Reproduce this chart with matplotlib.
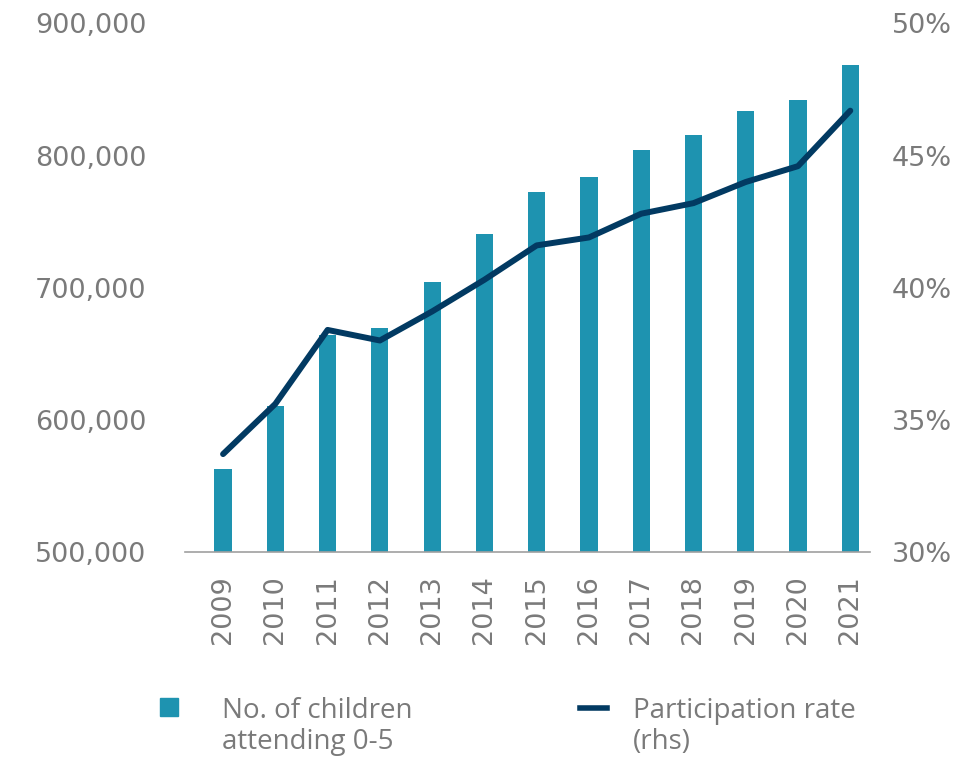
import matplotlib.pyplot as plt
import matplotlib.ticker as ticker
from matplotlib.lines import Line2D
from matplotlib.patches import Rectangle

plt.rcParams['font.family'] = ['DejaVu Sans']

years = ['2009', '2010', '2011', '2012', '2013', '2014', '2015',
         '2016', '2017', '2018', '2019', '2020', '2021']
children = [563000, 610600, 664400, 669700, 704500, 740900, 772700,
            784100, 804500, 815900, 834100, 842400, 868900]
rate = [33.7, 35.6, 38.4, 38.0, 39.1, 40.3, 41.6,
        41.9, 42.8, 43.2, 44.0, 44.6, 46.7]

bar_col = '#1e93b0'
line_col = '#023a62'
txt_col = '#7a7a7a'

W, H = 976, 758
fig = plt.figure(figsize=(W / 100, H / 100), dpi=100)
ax = fig.add_axes([0.19, 0.272, 0.701, 0.697])
ax2 = ax.twinx()

x = range(len(years))
ax.bar(x, children, width=0.33, color=bar_col, zorder=2)
ax2.plot(x, rate, color=line_col, linewidth=4.3, solid_capstyle='round', zorder=3)

ax.set_ylim(500000, 900000)
ax.set_xlim(-0.72, 12.37)
ax2.set_ylim(30, 50)

ax.yaxis.set_major_locator(ticker.MultipleLocator(100000))
ax.yaxis.set_major_formatter(ticker.FuncFormatter(lambda v, p: f'{int(v):,}'))
ax2.yaxis.set_major_locator(ticker.MultipleLocator(5))
ax2.yaxis.set_major_formatter(ticker.FuncFormatter(lambda v, p: f'{int(v)}%'))

ax.set_xticks(list(x))
ax.set_xticklabels(years, rotation=90, va='top')

for a in (ax, ax2):
    for s in a.spines.values():
        s.set_visible(False)
ax.spines['bottom'].set_visible(True)
ax.spines['bottom'].set_color('#a0a0a0')
ax.spines['bottom'].set_linewidth(1.2)

ax.tick_params(axis='y', length=0, pad=28, labelsize=19.5, labelcolor=txt_col)
ax2.tick_params(axis='y', length=0, pad=16, labelsize=19.5, labelcolor=txt_col)
ax.tick_params(axis='x', length=0, pad=17, labelsize=19.5, labelcolor=txt_col)

# legend drawn by hand so the keys sit beside the first text line
fig.add_artist(Rectangle((160 / W, 1 - 716 / H), 18 / W, 18 / H,
                         transform=fig.transFigure, color=bar_col))
fig.text(222 / W, 1 - 697 / H, 'No. of children\nattending 0-5', family='Open Sans',
         fontsize=20, color=txt_col, va='top', ha='left', linespacing=1.15)
fig.add_artist(Line2D([580 / W, 607 / W], [1 - 708 / H, 1 - 708 / H],
                      transform=fig.transFigure, color=line_col, linewidth=4))
fig.text(633 / W, 1 - 697 / H, 'Participation rate\n(rhs)', family='Open Sans',
         fontsize=20, color=txt_col, va='top', ha='left', linespacing=1.15)

fig.savefig('out.png', dpi=100)
